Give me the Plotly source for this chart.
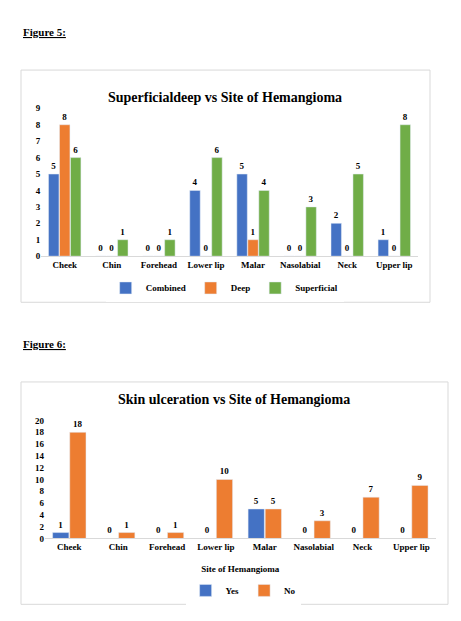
import plotly.graph_objects as go

# data
sites = ["Cheek", "Chin", "Forehead", "Lower lip", "Malar", "Nasolabial", "Neck", "Upper lip"]
combined = [5, 0, 0, 4, 5, 0, 2, 1]
deep = [8, 0, 0, 0, 1, 0, 0, 0]
superficial = [6, 1, 1, 6, 4, 3, 5, 8]
ulcer_yes = [1, 0, 0, 0, 5, 0, 0, 0]
ulcer_no = [18, 1, 1, 10, 5, 3, 7, 9]

BLUE, ORANGE, GREEN = "#4472C4", "#ED7D31", "#70AD47"
FONT = "Liberation Serif"

fig = go.Figure()

def bar(name, y, color, xa, ya, leg):
    fig.add_trace(go.Bar(
        x=sites, y=y, name=name, marker_color=color, xaxis=xa, yaxis=ya,
        legend=leg, text=y, texttemplate="<b>%{text}</b>", textposition="outside",
        textfont=dict(size=9, color="black"), cliponaxis=False))

bar("Combined", combined, BLUE, "x", "y", "legend")
bar("Deep", deep, ORANGE, "x", "y", "legend")
bar("Superficial", superficial, GREEN, "x", "y", "legend")
bar("Yes", ulcer_yes, BLUE, "x2", "y2", "legend2")
bar("No", ulcer_no, ORANGE, "x2", "y2", "legend2")

axfont = dict(family=FONT, size=9, color="black", weight="bold")
legfont = dict(family=FONT, size=9, color="black", weight="bold")
fig.update_layout(
    width=461, height=621, margin=dict(l=0, r=0, t=0, b=0),
    paper_bgcolor="white", plot_bgcolor="white",
    font=dict(family=FONT, color="black"),
    barmode="group", bargap=0.3, bargroupgap=0.05,
    xaxis=dict(domain=[0.072, 0.889], anchor="y", showgrid=False, showline=True,
               linecolor="#d9d9d9", ticks="", tickfont=axfont),
    yaxis=dict(domain=[0.602, 0.844], anchor="x", range=[0, 9], dtick=1, showgrid=False,
               zeroline=False, tickfont=axfont),
    xaxis2=dict(domain=[0.080, 0.928], anchor="y2", showgrid=False, showline=True,
                linecolor="#d9d9d9", ticks="", tickfont=axfont,
                title=dict(text="<b>Site of Hemangioma</b>", font=dict(family=FONT, size=9),
                           standoff=14)),
    yaxis2=dict(domain=[0.140, 0.333], anchor="x2", range=[0, 20], dtick=2, showgrid=False,
                zeroline=False, tickfont=axfont),
    legend=dict(orientation="h", x=0.47, xanchor="center", y=0.55, yanchor="middle",
                font=legfont, entrywidth=0, itemwidth=30, tracegroupgap=0),
    legend2=dict(orientation="h", x=0.51, xanchor="center", y=0.055, yanchor="middle",
                 font=legfont, itemwidth=30),
    shapes=[
        dict(type="rect", xref="paper", yref="paper", x0=13/461, x1=422/461,
             y0=1-294/621, y1=1-58/621, line=dict(color="#d9d9d9", width=1)),
        dict(type="rect", xref="paper", yref="paper", x0=13/461, x1=440/461,
             y0=1-601/621, y1=1-375/621, line=dict(color="#d9d9d9", width=1)),
    ],
    annotations=[
        dict(text="<b><u>Figure 5:</u></b>", x=13/461, y=1-19/621, xref="paper", yref="paper",
             xanchor="left", yanchor="middle", showarrow=False, font=dict(size=11)),
        dict(text="<b><u>Figure 6:</u></b>", x=13/461, y=1-336/621, xref="paper", yref="paper",
             xanchor="left", yanchor="middle", showarrow=False, font=dict(size=11)),
        dict(text="<b>Superficialdeep vs Site of Hemangioma</b>", x=217/461, y=1-76/621,
             xref="paper", yref="paper", showarrow=False, font=dict(size=14)),
        dict(text="<b>Skin ulceration vs Site of Hemangioma</b>", x=226/461, y=1-393/621,
             xref="paper", yref="paper", showarrow=False, font=dict(size=14)),
    ],
)

fig.write_html("out.html")
